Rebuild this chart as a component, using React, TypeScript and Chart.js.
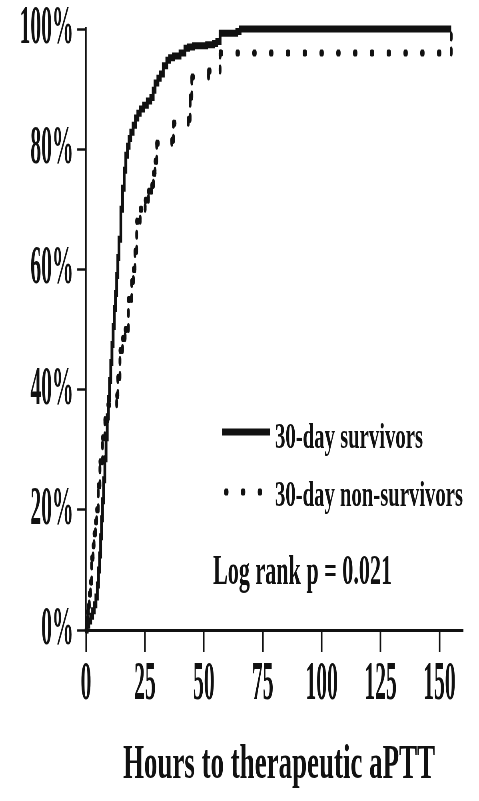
import React, { useEffect, useRef } from 'react';
import { Chart, registerables } from 'chart.js';

Chart.register(...registerables);

// ---- data ----
const survivorHours = [
  0.5, 1.2, 2.0, 2.8, 3.5, 4.2, 4.8, 5.3, 5.8, 6.2,
  6.6, 7.0, 7.5, 8.0, 8.5, 9.0, 9.5, 10.0, 10.5, 11.0,
  11.5, 12.0, 12.5, 13.0, 13.5, 14.0, 14.8, 15.5, 16.2, 16.9,
  17.6, 18.3, 19.0, 20.0, 21.0, 22.0, 23.0, 24.5, 26.0, 27.5,
  28.5, 29.3, 30.5, 31.5, 32.8, 34.3, 35.5, 37.1, 39.9, 42.0,
  43.5, 45.6, 51.2, 54.1, 55.5, 56.9, 64.0, 65.4,
];
const survivorPct = [
  0.8, 1.5, 2.3, 3.2, 4.2, 5.5, 7.5, 10.0, 12.5, 15.5,
  18.5, 21.5, 25.0, 28.5, 32.0, 35.5, 38.5, 41.5, 44.5, 47.5,
  50.5, 53.5, 56.0, 59.0, 62.0, 65.0, 70.0, 73.5, 76.5, 79.0,
  80.5, 81.8, 82.8, 84.0, 85.2, 86.0, 86.7, 87.3, 88.0, 88.6,
  89.8, 91.0, 91.8, 92.5, 93.9, 94.8, 95.2, 95.5, 96.0, 96.8,
  97.0, 97.2, 97.4, 97.6, 97.9, 99.3, 99.6, 100,
];
const nonSurvivorHours = [
  0.3, 0.7, 1.0, 1.4, 1.9, 2.4, 3.0, 3.4, 4.0, 4.5,
  5.2, 5.9, 7.0, 8.0, 9.3, 13.0, 13.5, 14.4, 15.5, 16.6,
  18.0, 19.4, 20.1, 20.8, 21.5, 23.0, 25.1, 26.5, 27.9, 28.6,
  29.3, 30.0, 36.4, 37.1, 43.4, 44.2, 44.9, 52.0, 56.9, 155,
];
const nonSurvivorPct = [
  1.5, 3.0, 4.0, 6.0, 8.0, 12.0, 14.0, 16.0, 18.0, 20.0,
  24.0, 28.0, 32.0, 35.0, 37.5, 39.0, 42.0, 46.5, 48.5, 50.0,
  55.0, 58.0, 60.0, 63.0, 68.0, 70.0, 71.5, 73.0, 74.0, 76.0,
  78.0, 81.0, 81.5, 84.3, 85.0, 88.7, 92.0, 93.0, 96.0, 100,
];
const followUpEnd = 155;
const xTickValues = [0, 25, 50, 75, 100, 125, 150];
const yTickValues = [0, 20, 40, 60, 80, 100];
const xMax = 160;
const yMax = 100;
const seriesLabels = ['30-day survivors', '30-day non-survivors'];
const pValueText = 'Log rank p = 0.021';
const xAxisTitle = 'Hours to therapeutic aPTT';

// ---- rendering constants ----
const PAGE_W = 479;
const PAGE_H = 801;
const W = 1198; // internal width, canvas is squeezed horizontally by CSS
const K = W / PAGE_W;
const FONT = "'Liberation Serif', 'Times New Roman', serif";
const INK = '#111111';
const DOT_DASH = [4, 38];
const VERT_DASH = [3, 12];

function buildSteps(hours: number[], pct: number[], end: number) {
  const pts: { x: number; y: number }[] = [{ x: 0, y: 0 }];
  let prev = 0;
  hours.forEach((h, i) => {
    pts.push({ x: h, y: prev });
    pts.push({ x: h, y: pct[i] });
    prev = pct[i];
  });
  if (hours[hours.length - 1] < end) pts.push({ x: end, y: prev });
  return pts;
}

function drawSqueezedText(
  ctx: CanvasRenderingContext2D,
  text: string,
  x: number,
  y: number,
  size: number,
  targetWidth: number,
  align: CanvasTextAlign
) {
  ctx.save();
  ctx.font = `bold ${size}px ${FONT}`;
  const w = ctx.measureText(text).width;
  ctx.translate(x, y);
  ctx.scale(targetWidth / w, 1);
  ctx.textAlign = align;
  ctx.textBaseline = 'alphabetic';
  ctx.fillStyle = INK;
  ctx.fillText(text, 0, 0);
  ctx.restore();
}

const annotationPlugin = {
  id: 'kmAnnotations',
  afterDraw(chart: any) {
    const ctx: CanvasRenderingContext2D = chart.ctx;
    // axis title
    drawSqueezedText(ctx, xAxisTitle, 279 * K, 778, 48, 312 * K, 'center');
    // legend row 1: solid line
    ctx.save();
    ctx.strokeStyle = INK;
    ctx.lineWidth = 7;
    ctx.lineCap = 'butt';
    ctx.beginPath();
    ctx.moveTo(222 * K, 432);
    ctx.lineTo(270 * K, 432);
    ctx.stroke();
    ctx.restore();
    drawSqueezedText(ctx, seriesLabels[0], 275 * K, 448, 36, 148 * K, 'left');
    // legend row 2: dots
    ctx.save();
    ctx.strokeStyle = INK;
    ctx.lineWidth = 7;
    ctx.lineCap = 'round';
    ctx.setLineDash(DOT_DASH);
    ctx.beginPath();
    ctx.moveTo(225.5 * K, 492);
    ctx.lineTo(225.5 * K + 2 * (DOT_DASH[0] + DOT_DASH[1]) + DOT_DASH[0], 492);
    ctx.stroke();
    ctx.restore();
    drawSqueezedText(ctx, seriesLabels[1], 275 * K, 506, 36, 188 * K, 'left');
    // p value
    drawSqueezedText(ctx, pValueText, 213 * K, 584, 42, 179 * K, 'left');
  },
};

export default function App() {
  const canvasRef = useRef<HTMLCanvasElement | null>(null);

  useEffect(() => {
    const canvas = canvasRef.current;
    if (!canvas) return;
    const tickFont = { family: FONT, size: 54, weight: 'bold' as const, lineHeight: 1 };
    const chart = new Chart(canvas, {
      type: 'line',
      data: {
        datasets: [
          {
            label: seriesLabels[0],
            data: buildSteps(survivorHours, survivorPct, followUpEnd),
            borderColor: INK,
            borderWidth: 7,
            borderJoinStyle: 'miter',
            pointRadius: 0,
            tension: 0,
            fill: false,
            clip: false as any,
          },
          {
            label: seriesLabels[1],
            data: buildSteps(nonSurvivorHours, nonSurvivorPct, followUpEnd),
            borderColor: INK,
            borderWidth: 7,
            borderCapStyle: 'round',
            pointRadius: 0,
            tension: 0,
            fill: false,
            clip: false as any,
            segment: {
              borderDash: (c: any) =>
                Math.abs(c.p0.x - c.p1.x) < 0.01 ? VERT_DASH : DOT_DASH,
            },
          },
        ],
      },
      options: {
        responsive: false,
        maintainAspectRatio: false,
        animation: false,
        devicePixelRatio: 1,
        parsing: false as any,
        layout: { padding: { left: 0, right: 40, top: 29, bottom: 0 } },
        plugins: {
          legend: { display: false },
          tooltip: { enabled: false },
          title: { display: false },
        },
        scales: {
          x: {
            type: 'linear',
            min: 0,
            max: xMax,
            afterBuildTicks: (s: any) => {
              s.ticks = xTickValues.map((v) => ({ value: v }));
            },
            ticks: {
              font: tickFont,
              color: INK,
              padding: 6,
              maxRotation: 0,
              autoSkip: false,
            },
            grid: {
              display: true,
              drawOnChartArea: false,
              drawTicks: true,
              tickLength: 22,
              tickWidth: 4,
              tickColor: INK,
            },
            border: { display: true, color: INK, width: 3 },
            afterFit: (s: any) => {
              s.height = PAGE_H - 630;
              s.paddingLeft = 0;
              s.paddingRight = 0;
            },
          },
          y: {
            type: 'linear',
            min: 0,
            max: yMax,
            afterBuildTicks: (s: any) => {
              s.ticks = yTickValues.map((v) => ({ value: v }));
            },
            ticks: {
              font: tickFont,
              color: INK,
              padding: 9,
              callback: (v: any) => `${v}%`,
            },
            grid: {
              display: true,
              drawOnChartArea: false,
              drawTicks: true,
              tickLength: 22,
              tickWidth: 2.5,
              tickColor: INK,
            },
            border: { display: true, color: INK, width: 3.75 },
            afterFit: (s: any) => {
              s.width = 86 * K;
              s.paddingTop = 0;
              s.paddingBottom = 0;
            },
          },
        },
      },
      plugins: [annotationPlugin],
    });
    return () => chart.destroy();
  }, []);

  return (
    <div style={{ position: 'absolute', left: 0, top: 0, width: PAGE_W, height: PAGE_H, background: '#fff' }}>
      <canvas
        ref={canvasRef}
        width={W}
        height={PAGE_H}
        style={{ width: `${PAGE_W}px`, height: `${PAGE_H}px`, display: 'block' }}
      />
    </div>
  );
}
